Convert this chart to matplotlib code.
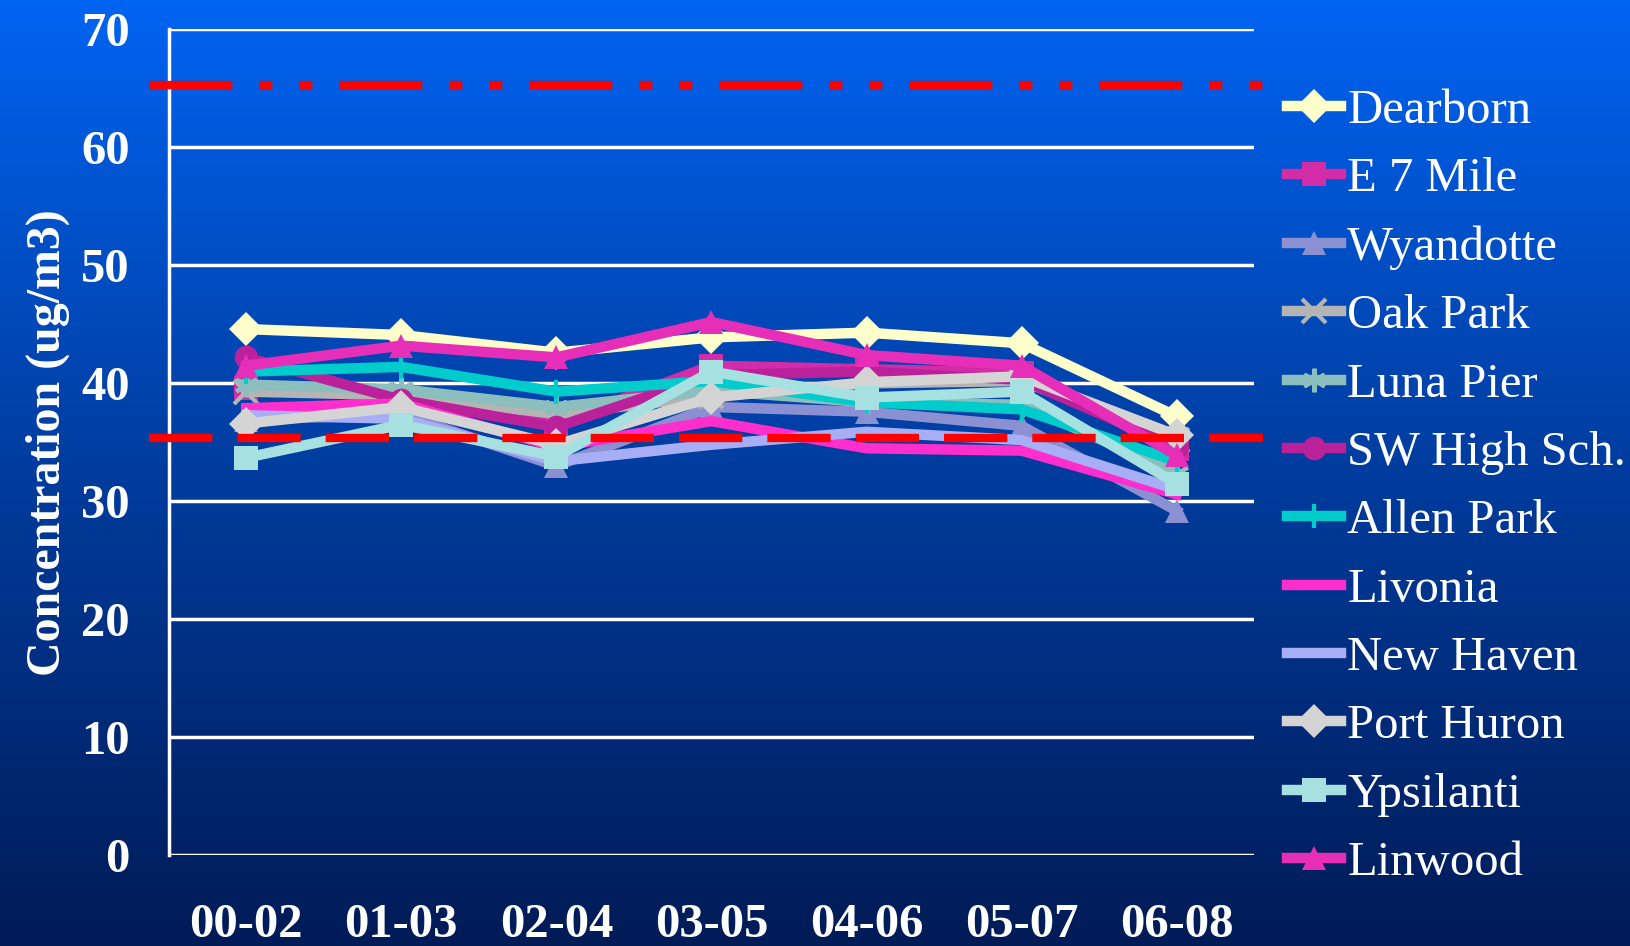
import numpy as np
import matplotlib
matplotlib.use("Agg")
import matplotlib.pyplot as plt
from matplotlib.colors import LinearSegmentedColormap

# data (3-year averages, ug/m3)
periods = ["00-02", "01-03", "02-04", "03-05", "04-06", "05-07", "06-08"]

dearborn    = [44.6, 44.1, 42.6, 43.9, 44.3, 43.4, 37.2]
e7mile      = [39.6, 38.8, 36.6, 41.5, 41.2, 40.9, 34.4]
wyandotte   = [36.9, 37.4, 33.0, 38.0, 37.6, 36.4, 29.2]
oakpark     = [39.3, 39.0, 37.4, 38.9, 40.0, 40.2, 35.2]
lunapier    = [39.9, 39.5, 38.0, 39.4, 38.4, 38.2, 32.4]
swhigh      = [42.2, 38.6, 36.3, 40.7, 41.0, 40.3, 34.6]
allenpark   = [41.0, 41.4, 39.3, 40.2, 38.4, 37.8, 33.4]
livonia     = [37.9, 38.3, 34.6, 36.8, 34.5, 34.3, 30.6]
newhaven    = [37.3, 37.0, 33.4, 34.8, 35.9, 35.2, 31.0]
porthuron   = [36.6, 38.0, 34.8, 38.8, 40.1, 40.6, 35.6]
ypsilanti   = [33.7, 36.5, 33.8, 41.0, 38.8, 39.3, 31.5]
linwood     = [41.5, 43.2, 42.2, 45.2, 42.4, 41.5, 33.9]

# standard lines as drawn on the slide
std_old = 65.3
std_new = 35.35

series = [
    ("Dearborn", dearborn, "#FFFFCC", "D"),
    ("E 7 Mile", e7mile, "#D22CA8", "s"),
    ("Wyandotte", wyandotte, "#8A90D2", "^"),
    ("Oak Park", oakpark, "#B4B4B4", "x"),
    ("Luna Pier", lunapier, "#8CBEBE", (6, 2, 0)),
    ("SW High Sch.", swhigh, "#BC219C", "o"),
    ("Allen Park", allenpark, "#00CCCC", "|"),
    ("Livonia", livonia, "#FF2ECC", None),
    ("New Haven", newhaven, "#A8AEF6", None),
    ("Port Huron", porthuron, "#D4D4D4", "D"),
    ("Ypsilanti", ypsilanti, "#A6E0E0", "s"),
    ("Linwood", linwood, "#E62EB8", "^"),
]

fig = plt.figure(figsize=(16.31, 9.46), dpi=100)

# blue gradient background
bg = fig.add_axes([0, 0, 1, 1], zorder=0)
grad = LinearSegmentedColormap.from_list("bg", ["#001B56", "#003C9E", "#0064F2"])
bg.imshow(np.linspace(0, 1, 256).reshape(-1, 1), aspect="auto", cmap=grad,
          origin="lower", extent=[0, 1, 0, 1])
bg.axis("off")

ax = fig.add_axes([0.1034, 0.0957, 0.6656, 0.8733], zorder=1)
ax.set_facecolor("none")

x = np.arange(len(periods))
for name, vals, col, mk in series:
    ax.plot(x, vals, color=col, lw=7.5, marker=mk, markersize=17,
            markeredgewidth=3 if mk in ("x", "|", (6, 2, 0)) else 0,
            markeredgecolor=col, label=name, solid_joinstyle="miter")

ax.axhline(std_old, xmin=-0.018, xmax=1.008, color="#FF0000", lw=6,
           dashes=(10, 3.2, 1.6, 3.2, 1.6, 3.2), clip_on=False, zorder=5)
ax.axhline(std_new, xmin=-0.018, xmax=1.008, color="#FF0000", lw=6,
           dashes=(7.6, 3.0), clip_on=False, zorder=5)

ax.set_xlim(-0.5, 6.5)
ax.set_ylim(0, 70)
ax.set_yticks(range(0, 71, 10))
ax.set_xticks(x)
ax.set_xticklabels(periods)
ax.yaxis.grid(True, color="white", lw=2.5)
ax.set_axisbelow(True)
for s in ["top", "right", "bottom"]:
    ax.spines[s].set_visible(False)
ax.spines["left"].set_color("white")
ax.spines["left"].set_linewidth(2.5)
ax.tick_params(length=0, colors="white")
ax.tick_params(axis="y", pad=28)
ax.tick_params(axis="x", pad=34)
for lab in ax.get_xticklabels() + ax.get_yticklabels():
    lab.set_fontfamily("Liberation Serif")
    lab.set_fontweight("bold")
    lab.set_fontsize(35)

ax.set_ylabel("Concentration (ug/m3)", fontfamily="Liberation Serif",
              fontweight="bold", fontsize=34.5, color="white", labelpad=8)

leg = ax.legend(loc="upper left", bbox_to_anchor=(0.789, 0.906),
                bbox_transform=fig.transFigure, frameon=False,
                prop={"family": "Liberation Serif", "size": 35},
                handlelength=1.12, handletextpad=0.12, labelspacing=0.5,
                borderpad=0, borderaxespad=0)
for t in leg.get_texts():
    t.set_color("white")

fig.savefig("out.png", dpi=100)
